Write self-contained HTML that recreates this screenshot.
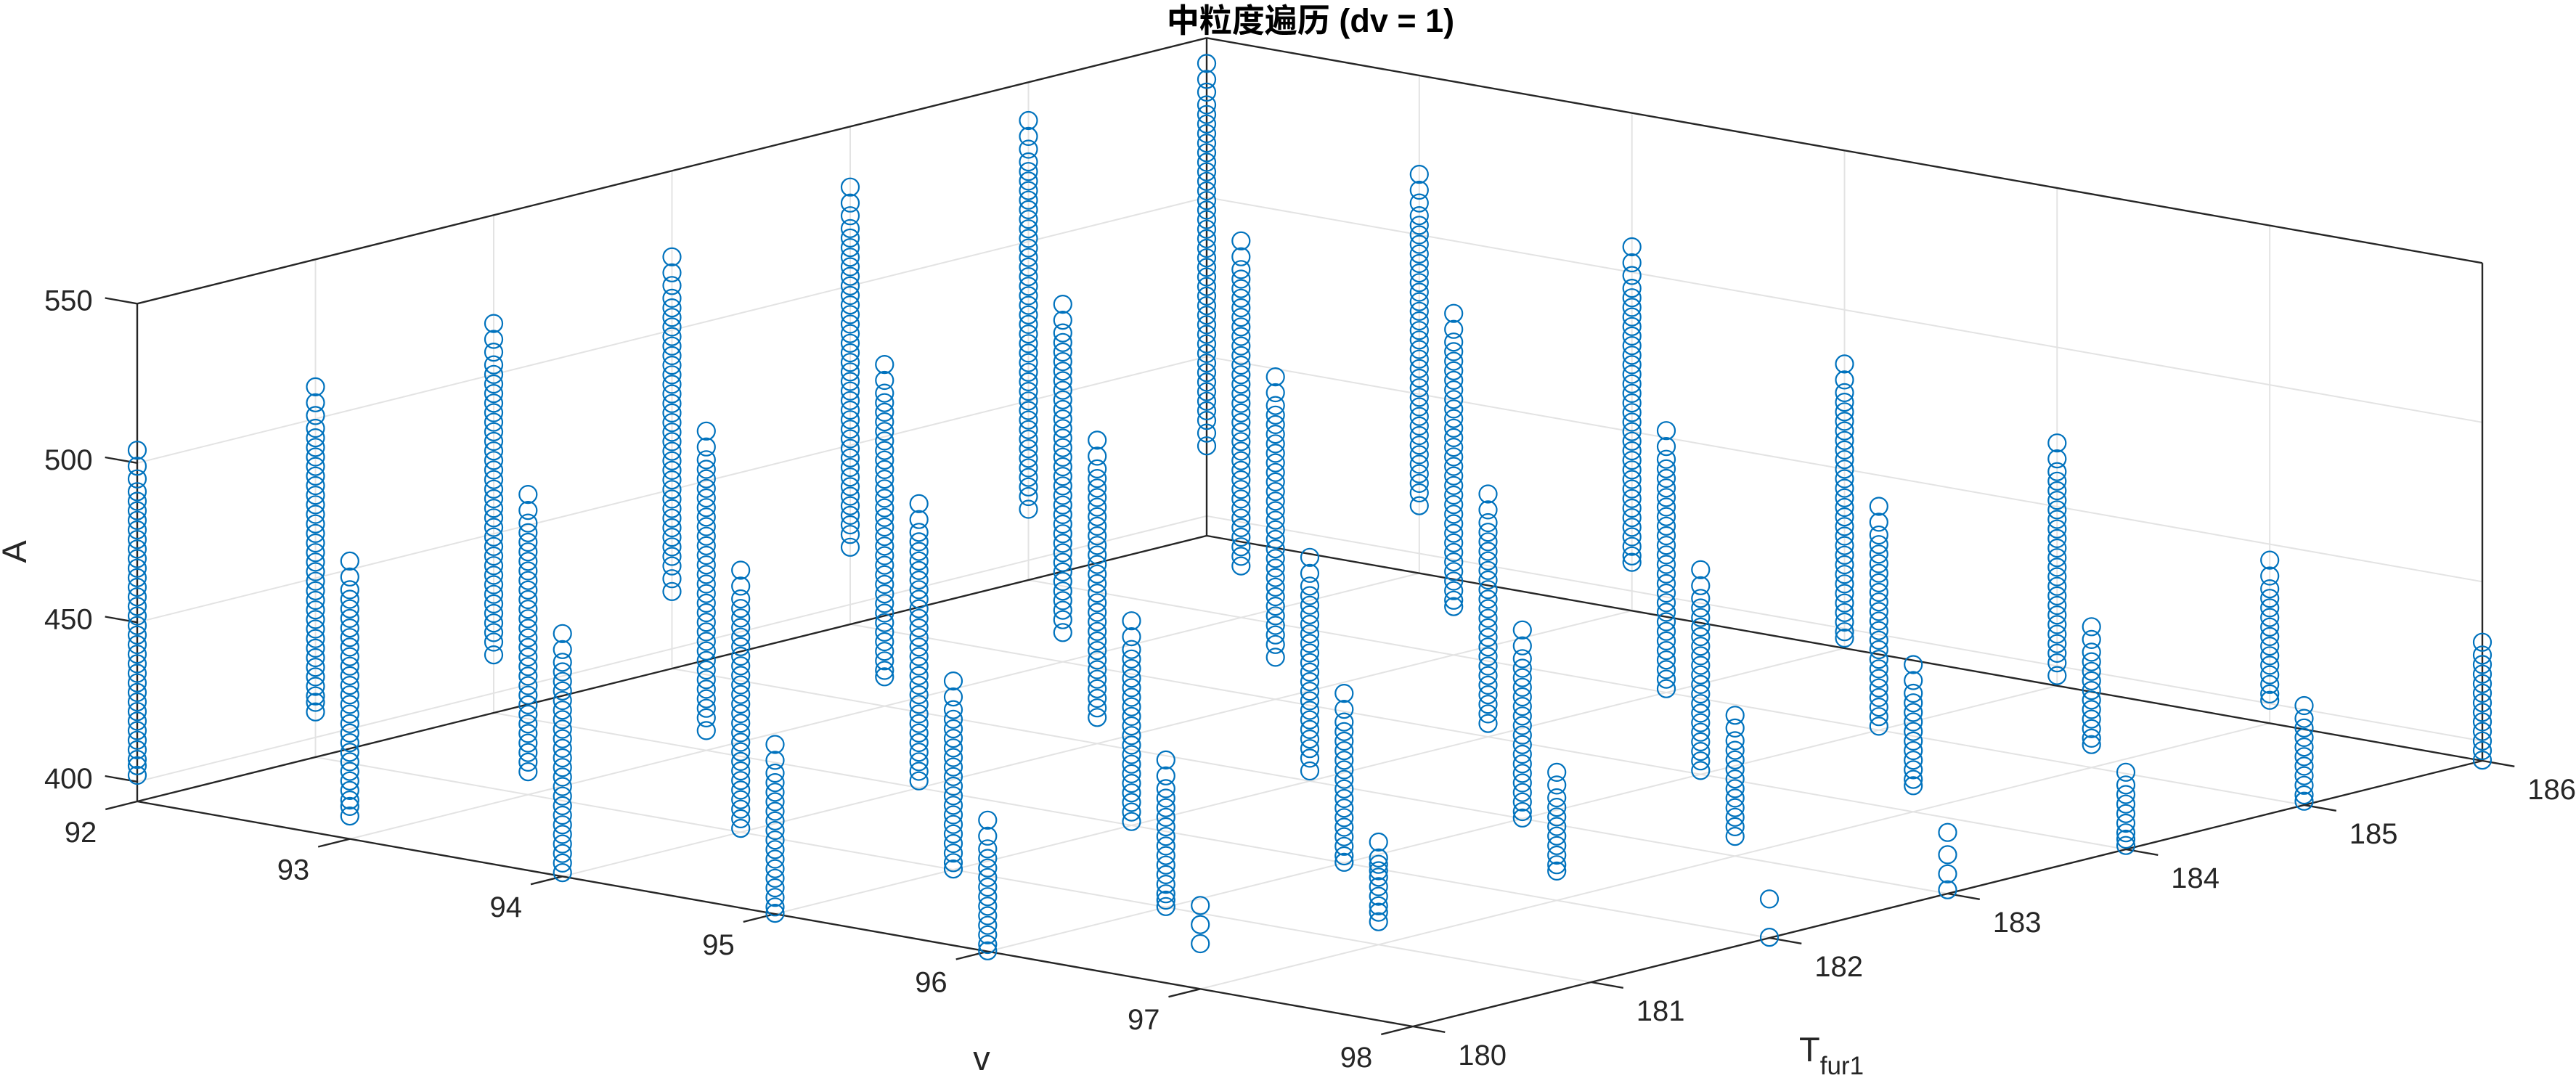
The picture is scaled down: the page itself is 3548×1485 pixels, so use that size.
<!DOCTYPE html>
<html>
<head>
<meta charset="utf-8">
<style>
html,body{margin:0;padding:0;background:#fff;}
svg{display:block;}
text{font-family:"Liberation Sans","Noto Sans CJK SC",sans-serif;fill:#262626;}
</style>
</head>
<body>
<svg id="chart" xmlns="http://www.w3.org/2000/svg" width="3548" height="1485" viewBox="0 0 3548 1485">
  <rect x="0" y="0" width="3548" height="1485" fill="#ffffff"/>
  <g id="grid"></g>
  <g id="box"></g>
  <g id="ticks"></g>
  <g id="marks"></g>
  <text x="1805" y="44" text-anchor="middle" font-size="45" font-weight="bold" style="fill:#000">中粒度遍历 (dv = 1)</text>
  <text x="0" y="0" font-size="47" text-anchor="middle" transform="translate(36,760) rotate(-90)">A</text>
  <text x="1352" y="1474" font-size="47" text-anchor="middle">v</text>
  <text x="2478" y="1462" font-size="47">T<tspan font-size="35" dy="18">fur1</tspan></text>
</svg>
<script>
const vLim = [92, 98];
const tLim = [180, 186];
const aLim = [393.8, 550];
const vTicks = [92, 93, 94, 95, 96, 97, 98];
const tTicks = [180, 181, 182, 183, 184, 185, 186];
const aTicks = [400, 450, 500, 550];

const vVals = [92,92,93,92,93,94,92,93,94,95,92,93,94,95,96,92,93,94,95,96,97,92,93,94,95,96,97,93,94,95,96,97,98,94,95,96,97,98,95,96,97,98,96,97,98,97,98];
const tVals = [180,181,180,182,181,180,183,182,181,180,184,183,182,181,180,185,184,183,182,181,180,186,185,184,183,182,181,186,185,184,183,182,182,186,185,184,183,183,186,185,184,184,186,185,185,186,186];
const aVals = [
[504,499,495,491,488,485,482,479,476,473,470,467,464,461,458,455,452,449,446,443,440,437,434,431,428,425,422,419,416,413,410,407,405,402],
[510,505,501,497,494,491,488,485,482,479,476,473,470,467,464,461,458,455,452,449,446,443,440,437,434,431,428,425,422,419,416,413,411,408],
[481,476,472,469,466,463,460,457,454,451,448,445,442,439,436,433,430,427,424,421,418,415,412,409,406,404,401],
[516,511,507,503,500,497,494,491,488,485,482,479,476,473,470,467,464,461,458,455,452,449,446,443,440,437,434,431,428,425,422,419,416,412],
[488,483,479,476,473,470,467,464,461,458,455,452,449,446,443,440,437,434,431,428,425,422,419,416,413,410,407,404,401],
[470,465,461,458,455,452,449,446,443,440,437,434,431,428,425,422,419,416,413,410,407,404,401,398,395],
[523,518,514,510,507,504,501,498,495,492,489,486,483,480,477,474,471,468,465,462,459,456,453,450,447,444,441,438,435,432,429,426,422,418],
[494,489,485,482,479,476,473,470,467,464,461,458,455,452,449,446,443,440,437,434,431,428,425,422,419,416,413,410,407,404,400],
[476,471,467,464,461,458,455,452,449,446,443,440,437,434,431,428,425,422,419,416,413,410,407,404,401,398,395],
[447,442,438,435,432,429,426,423,420,417,414,411,408,405,402,399,396,394],
[531,526,522,518,515,512,509,506,503,500,497,494,491,488,485,482,479,476,473,470,467,464,461,458,455,452,449,446,443,440,437,434,431,428,425,422,418],
[501,496,492,489,486,483,480,477,474,471,468,465,462,459,456,453,450,447,444,441,438,435,432,429,426,423,420,417,414,411,408,405,403],
[483,478,474,471,468,465,462,459,456,453,450,447,444,441,438,435,432,429,426,423,420,417,414,411,408,405,402,399,396],
[453,448,444,441,438,435,432,429,426,423,420,417,414,411,408,405,402,399,396,394],
[435,430,426,423,420,417,414,411,408,405,402,399,396,394],
[538,533,529,525,522,519,516,513,510,507,504,501,498,495,492,489,486,483,480,477,474,471,468,465,462,459,456,453,450,447,444,441,438,435,432,429,426,423,420,416],
[506,501,497,494,491,488,485,482,479,476,473,470,467,464,461,458,455,452,449,446,443,440,437,434,431,428,425,422,419,416,413,410,407,403],
[489,484,480,477,474,471,468,465,462,459,456,453,450,447,444,441,438,435,432,429,426,423,420,417,414,411,408,405,402],
[458,453,449,446,443,440,437,434,431,428,425,422,419,416,413,410,407,404,401,398,395],
[440,435,431,428,425,422,419,416,413,410,407,404,401,398,396,394],
[420,414,408],
[542,537,533,529,526,523,520,517,514,511,508,505,502,499,496,493,490,487,484,481,478,475,472,469,466,463,460,457,454,451,448,445,442,439,436,433,430,426,422],
[512,507,503,500,497,494,491,488,485,482,479,476,473,470,467,464,461,458,455,452,449,446,443,440,437,434,431,428,425,422,419,416,413,410],
[495,490,486,483,480,477,474,471,468,465,462,459,456,453,450,447,444,441,438,435,432,429,426,423,420,417,414,411,407],
[464,459,455,452,449,446,443,440,437,434,431,428,425,422,419,416,413,410,407,404,401,397],
[447,442,438,435,432,429,426,423,420,417,414,411,408,405,402,399,396,394],
[426,421,419,417,415,412,409,406,404,401],
[519,514,510,506,503,500,497,494,491,488,485,482,479,476,473,470,467,464,461,458,455,452,449,446,443,440,437,434,431,428,425,422,419,415],
[501,496,492,489,486,483,480,477,474,471,468,465,462,459,456,453,450,447,444,441,438,435,432,429,426,423,420,417,414,411,409],
[470,465,461,458,455,452,449,446,443,440,437,434,431,428,425,422,419,416,413,410,407,404,401,398],
[453,448,444,441,438,435,432,429,426,423,420,417,414,411,408,405,402,399,396,394],
[434,430,426,423,420,417,414,411,408,405,403],
[406,394],
[508,503,499,495,492,489,486,483,480,477,474,471,468,465,462,459,456,453,450,447,444,441,438,435,432,429,426,423,420,417,414,411,409],
[476,471,467,464,461,458,455,452,449,446,443,440,437,434,431,428,425,422,419,416,413,410,407,404,401,398,395],
[458,453,449,446,443,440,437,434,431,428,425,422,419,416,413,410,407,404,401,398,395],
[438,434,430,427,424,421,418,415,412,409,406,403,400],
[413,406,400,395],
[483,478,474,471,468,465,462,459,456,453,450,447,444,441,438,435,432,429,426,423,420,417,414,411,408,405,402,399,397],
[464,459,455,452,449,446,443,440,437,434,431,428,425,422,419,416,413,410,407,404,401,398,395],
[440,435,431,428,425,422,419,416,413,410,407,404,402],
[418,414,411,408,405,402,399,397,395],
[470,465,461,458,455,452,449,446,443,440,437,434,431,428,425,422,419,416,413,410,407,404,401,397],
[438,434,430,427,424,421,418,415,412,409,406,403,401],
[425,421,418,415,412,409,406,403,400,397,395],
[445,440,436,433,430,427,424,421,418,415,412,409,406,403,401],
[431,427,424,421,418,415,412,409,406,403,400,397,394]
];

const NS = 'http://www.w3.org/2000/svg';
// projection (orthographic) – origin corner and edge vectors in pixels
const ORIGIN = [189, 1104];
const VEDGE = [1757, 310];
const TEDGE = [1473, -366];
const AHEIGHT = 685.7;

function proj(v, t, a) {
  const fv = (v - vLim[0]) / (vLim[1] - vLim[0]);
  const ft = (t - tLim[0]) / (tLim[1] - tLim[0]);
  const fa = (a - aLim[0]) / (aLim[1] - aLim[0]);
  return [ORIGIN[0] + fv * VEDGE[0] + ft * TEDGE[0], ORIGIN[1] + fv * VEDGE[1] + ft * TEDGE[1] - fa * AHEIGHT];
}

function addLine(parent, p1, p2, color, width, name) {
  const el = document.createElementNS(NS, 'line');
  el.setAttribute('x1', p1[0].toFixed(1));
  el.setAttribute('y1', p1[1].toFixed(1));
  el.setAttribute('x2', p2[0].toFixed(1));
  el.setAttribute('y2', p2[1].toFixed(1));
  el.setAttribute('stroke', color);
  el.setAttribute('stroke-width', width);
  
  
  parent.appendChild(el);
  return el;
}

function addText(parent, x, y, str, anchor, name) {
  const el = document.createElementNS(NS, 'text');
  el.setAttribute('x', x.toFixed(1));
  el.setAttribute('y', y.toFixed(1));
  el.setAttribute('text-anchor', anchor);
  el.setAttribute('font-size', '40');
  el.textContent = str;
  
  
  parent.appendChild(el);
}

const grid = document.getElementById('grid');
const box = document.getElementById('box');
const ticks = document.getElementById('ticks');
const marks = document.getElementById('marks');
const GC = '#e3e3e3', GW = 2;
const A0 = aLim[0], A1 = aLim[1];

// floor grid
vTicks.forEach(v => addLine(grid, proj(v, tLim[0], A0), proj(v, tLim[1], A0), GC, GW, 'floor-grid-v'));
tTicks.forEach(t => addLine(grid, proj(vLim[0], t, A0), proj(vLim[1], t, A0), GC, GW, 'floor-grid-t'));
// left wall (v = min)
tTicks.forEach(t => addLine(grid, proj(vLim[0], t, A0), proj(vLim[0], t, A1), GC, GW, 'left-wall-grid-t'));
aTicks.forEach(a => addLine(grid, proj(vLim[0], tLim[0], a), proj(vLim[0], tLim[1], a), GC, GW, 'left-wall-grid-a'));
// back wall (t = max)
vTicks.forEach(v => addLine(grid, proj(v, tLim[1], A0), proj(v, tLim[1], A1), GC, GW, 'back-wall-grid-v'));
aTicks.forEach(a => addLine(grid, proj(vLim[0], tLim[1], a), proj(vLim[1], tLim[1], a), GC, GW, 'back-wall-grid-a'));

// box edges
const BC = '#262626', BW = 2.4;
addLine(box, proj(vLim[0], tLim[0], A0), proj(vLim[0], tLim[0], A1), BC, BW, 'z-axis-line');
addLine(box, proj(vLim[0], tLim[1], A0), proj(vLim[0], tLim[1], A1), BC, BW, 'back-vertical-edge');
addLine(box, proj(vLim[1], tLim[1], A0), proj(vLim[1], tLim[1], A1), BC, BW, 'right-vertical-edge');
addLine(box, proj(vLim[0], tLim[0], A1), proj(vLim[0], tLim[1], A1), BC, BW, 'top-left-edge');
addLine(box, proj(vLim[0], tLim[1], A1), proj(vLim[1], tLim[1], A1), BC, BW, 'top-back-edge');
addLine(box, proj(vLim[0], tLim[0], A0), proj(vLim[1], tLim[0], A0), BC, BW, 'x-axis-line');
addLine(box, proj(vLim[1], tLim[0], A0), proj(vLim[1], tLim[1], A0), BC, BW, 'y-axis-line');
addLine(box, proj(vLim[0], tLim[0], A0), proj(vLim[0], tLim[1], A0), BC, BW, 'floor-left-edge');
addLine(box, proj(vLim[0], tLim[1], A0), proj(vLim[1], tLim[1], A0), BC, BW, 'floor-back-edge');

// ticks
const TL = 45;
const vn = Math.hypot(VEDGE[0], VEDGE[1]);
const tn = Math.hypot(TEDGE[0], TEDGE[1]);
const vdir = [VEDGE[0] / vn * TL, VEDGE[1] / vn * TL];
const tdir = [TEDGE[0] / tn * TL, TEDGE[1] / tn * TL];

aTicks.forEach(a => {
  const p = proj(vLim[0], tLim[0], a);
  const e = [p[0] - vdir[0], p[1] - vdir[1]];
  addLine(ticks, p, e, BC, BW, 'z-tick');
  addText(ticks, e[0] - 17, e[1] + 17, String(a), 'end', 'z-tick-label');
});
vTicks.forEach(v => {
  const p = proj(v, tLim[0], A0);
  const e = [p[0] - tdir[0], p[1] - tdir[1]];
  addLine(ticks, p, e, BC, BW, 'x-tick');
  addText(ticks, e[0] - 12, e[1] + 45, String(v), 'end', 'x-tick-label');
});
tTicks.forEach(t => {
  const p = proj(vLim[1], t, A0);
  const e = [p[0] + vdir[0], p[1] + vdir[1]];
  addLine(ticks, p, e, BC, BW, 'y-tick');
  addText(ticks, e[0] + 18, e[1] + 45, String(t), 'start', 'y-tick-label');
});

// scatter circles
for (let k = 0; k < vVals.length; k++) {
  const g = document.createElementNS(NS, 'g');
  
  
  aVals[k].forEach(a => {
    const p = proj(vVals[k], tVals[k], a);
    const c = document.createElementNS(NS, 'circle');
    c.setAttribute('cx', p[0].toFixed(1));
    c.setAttribute('cy', p[1].toFixed(1));
    c.setAttribute('r', '12');
    c.setAttribute('fill', 'none');
    c.setAttribute('stroke', '#0072BD');
    c.setAttribute('stroke-width', '2.2');
    
    
    g.appendChild(c);
  });
  marks.appendChild(g);
}
</script>
</body>
</html>
